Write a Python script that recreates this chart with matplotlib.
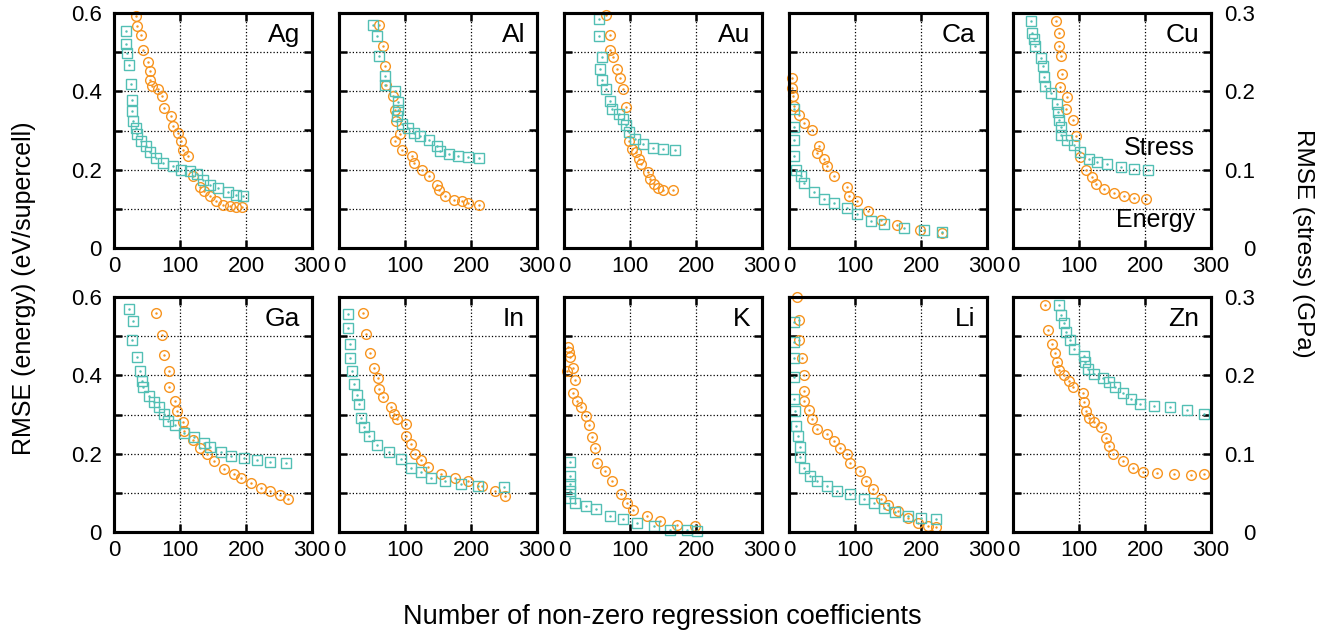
import numpy as np
import matplotlib
matplotlib.use('Agg')
import matplotlib.pyplot as plt

plt.rcParams['font.family'] = ['Liberation Sans', 'DejaVu Sans']

# element order, top row then bottom row
elements = ['Ag', 'Al', 'Au', 'Ca', 'Cu', 'Ga', 'In', 'K', 'Li', 'Zn']

# energy RMSE (eV/supercell) vs number of non-zero coefficients
e_x = {
    'Ag': [33, 35, 41, 44, 52, 54, 55, 57, 67, 72, 75, 87, 90, 97, 102, 105, 112, 120, 130, 137, 145, 155, 165, 175, 185, 194],
    'Al': [60, 66, 69, 71, 82, 85, 86, 92, 85, 95, 110, 113, 125, 136, 148, 151, 161, 174, 186, 196, 212],
    'Au': [63, 69, 69, 74, 81, 85, 89, 94, 99, 103, 109, 113, 117, 127, 130, 137, 142, 150, 165],
    'Ca': [5, 5, 6, 8, 15, 23, 35, 45, 43, 53, 58, 68, 88, 91, 103, 119, 139, 164, 199, 232],
    'Cu': [65, 69, 69, 73, 74, 71, 82, 81, 91, 96, 102, 110, 120, 126, 138, 153, 168, 183, 201],
    'Ga': [63, 73, 76, 83, 83, 93, 96, 104, 106, 120, 131, 141, 152, 167, 182, 192, 207, 222, 237, 252, 263],
    'In': [36, 41, 47, 53, 59, 61, 66, 79, 84, 88, 101, 101, 109, 115, 124, 135, 155, 175, 195, 216, 236, 251],
    'K': [6, 8, 9, 4, 14, 16, 13, 19, 26, 34, 38, 42, 47, 50, 62, 72, 87, 95, 105, 125, 146, 171, 199],
    'Li': [12, 15, 15, 19, 22, 22, 23, 30, 35, 42, 58, 68, 78, 88, 93, 108, 116, 127, 139, 150, 165, 180, 195, 211, 223],
    'Zn': [48, 53, 59, 64, 67, 69, 78, 85, 91, 106, 108, 110, 115, 122, 133, 141, 146, 152, 167, 182, 197, 218, 244, 269, 290],
}
e_y = {
    'Ag': [0.593, 0.568, 0.545, 0.505, 0.474, 0.451, 0.43, 0.414, 0.406, 0.389, 0.357, 0.336, 0.312, 0.294, 0.272, 0.251, 0.234, 0.183, 0.157, 0.145, 0.132, 0.119, 0.111, 0.106, 0.105, 0.105],
    'Al': [0.57, 0.515, 0.464, 0.417, 0.387, 0.353, 0.323, 0.29, 0.272, 0.25, 0.234, 0.217, 0.2, 0.183, 0.162, 0.149, 0.132, 0.123, 0.119, 0.115, 0.111],
    'Au': [0.596, 0.544, 0.506, 0.488, 0.458, 0.434, 0.407, 0.36, 0.272, 0.253, 0.244, 0.227, 0.214, 0.193, 0.176, 0.163, 0.152, 0.148, 0.148],
    'Ca': [0.434, 0.408, 0.387, 0.362, 0.34, 0.32, 0.302, 0.26, 0.243, 0.226, 0.209, 0.183, 0.157, 0.132, 0.119, 0.094, 0.072, 0.06, 0.047, 0.038],
    'Cu': [0.579, 0.55, 0.516, 0.489, 0.444, 0.41, 0.385, 0.356, 0.326, 0.285, 0.232, 0.198, 0.181, 0.164, 0.151, 0.14, 0.132, 0.128, 0.126],
    'Ga': [0.56, 0.504, 0.452, 0.412, 0.369, 0.335, 0.309, 0.281, 0.258, 0.235, 0.215, 0.198, 0.181, 0.16, 0.147, 0.138, 0.126, 0.113, 0.104, 0.094, 0.085],
    'In': [0.56, 0.506, 0.457, 0.418, 0.392, 0.365, 0.344, 0.32, 0.301, 0.288, 0.275, 0.245, 0.224, 0.2, 0.185, 0.166, 0.147, 0.138, 0.13, 0.117, 0.104, 0.091],
    'K': [0.472, 0.459, 0.446, 0.412, 0.419, 0.388, 0.356, 0.335, 0.318, 0.297, 0.274, 0.243, 0.215, 0.177, 0.157, 0.13, 0.096, 0.074, 0.057, 0.04, 0.027, 0.019, 0.015],
    'Li': [0.6, 0.542, 0.49, 0.444, 0.4, 0.361, 0.335, 0.311, 0.288, 0.262, 0.249, 0.232, 0.215, 0.198, 0.177, 0.156, 0.13, 0.109, 0.083, 0.07, 0.053, 0.036, 0.023, 0.015, 0.012],
    'Zn': [0.579, 0.517, 0.48, 0.456, 0.433, 0.414, 0.402, 0.385, 0.371, 0.354, 0.331, 0.309, 0.292, 0.281, 0.267, 0.241, 0.22, 0.2, 0.181, 0.164, 0.153, 0.151, 0.147, 0.145, 0.147],
}

# stress RMSE (GPa)
s_x = {
    'Ag': [18, 18, 20, 22, 25, 27, 27, 29, 33, 35, 41, 49, 54, 64, 74, 89, 102, 115, 125, 135, 145, 158, 173, 185, 195],
    'Al': [52, 57, 60, 70, 70, 85, 89, 90, 88, 95, 105, 113, 123, 136, 148, 153, 166, 181, 196, 212],
    'Au': [53, 53, 57, 54, 57, 63, 70, 73, 83, 89, 94, 99, 107, 119, 135, 150, 168],
    'Ca': [8, 8, 8, 8, 10, 18, 23, 38, 53, 68, 88, 103, 124, 144, 174, 205, 232],
    'Cu': [28, 29, 32, 33, 43, 46, 47, 49, 58, 66, 68, 70, 72, 72, 82, 92, 102, 115, 128, 143, 163, 183, 204],
    'Ga': [23, 29, 28, 35, 39, 43, 44, 53, 61, 68, 76, 82, 93, 106, 121, 136, 146, 162, 177, 197, 217, 237, 260],
    'In': [13, 14, 17, 17, 19, 23, 27, 30, 33, 38, 46, 58, 76, 94, 109, 124, 140, 160, 185, 211, 250],
    'K': [9, 9, 9, 9, 9, 16, 34, 49, 70, 90, 110, 136, 161, 186, 201],
    'Li': [7, 7, 8, 8, 8, 9, 10, 13, 16, 17, 22, 32, 42, 58, 73, 93, 114, 129, 144, 160, 180, 200, 223],
    'Zn': [69, 72, 78, 81, 87, 92, 108, 109, 113, 122, 136, 146, 154, 167, 179, 192, 213, 238, 264, 290],
}
s_y = {
    'Ag': [0.277, 0.26, 0.249, 0.233, 0.209, 0.189, 0.175, 0.162, 0.153, 0.145, 0.136, 0.13, 0.122, 0.115, 0.109, 0.105, 0.1, 0.098, 0.094, 0.087, 0.081, 0.077, 0.071, 0.068, 0.067],
    'Al': [0.285, 0.27, 0.245, 0.22, 0.208, 0.2, 0.187, 0.176, 0.168, 0.158, 0.153, 0.147, 0.143, 0.138, 0.13, 0.124, 0.12, 0.118, 0.116, 0.115],
    'Au': [0.292, 0.27, 0.244, 0.228, 0.214, 0.203, 0.188, 0.178, 0.171, 0.165, 0.157, 0.148, 0.139, 0.133, 0.128, 0.126, 0.125],
    'Ca': [0.177, 0.155, 0.138, 0.117, 0.1, 0.092, 0.083, 0.072, 0.062, 0.057, 0.051, 0.043, 0.034, 0.03, 0.026, 0.023, 0.02],
    'Cu': [0.29, 0.275, 0.267, 0.258, 0.243, 0.232, 0.218, 0.207, 0.198, 0.184, 0.173, 0.164, 0.155, 0.144, 0.138, 0.131, 0.123, 0.113, 0.11, 0.107, 0.103, 0.101, 0.1],
    'Ga': [0.285, 0.269, 0.245, 0.223, 0.206, 0.193, 0.185, 0.174, 0.166, 0.159, 0.151, 0.142, 0.136, 0.127, 0.121, 0.114, 0.108, 0.102, 0.097, 0.095, 0.092, 0.09, 0.088],
    'In': [0.278, 0.26, 0.24, 0.222, 0.205, 0.189, 0.175, 0.163, 0.146, 0.134, 0.123, 0.111, 0.102, 0.093, 0.082, 0.076, 0.069, 0.065, 0.061, 0.059, 0.058],
    'K': [0.089, 0.072, 0.061, 0.052, 0.044, 0.037, 0.033, 0.029, 0.02, 0.016, 0.012, 0.008, 0.003, 0.002, 0.001],
    'Li': [0.268, 0.242, 0.222, 0.198, 0.17, 0.155, 0.135, 0.122, 0.108, 0.096, 0.082, 0.072, 0.065, 0.059, 0.052, 0.048, 0.042, 0.037, 0.031, 0.025, 0.02, 0.018, 0.017],
    'Zn': [0.29, 0.277, 0.267, 0.255, 0.245, 0.234, 0.225, 0.217, 0.208, 0.202, 0.197, 0.191, 0.185, 0.178, 0.17, 0.163, 0.161, 0.159, 0.156, 0.151],
}

orange = '#f7941f'
teal = '#52bfb4'

W, H = 1334, 636
fig = plt.figure(figsize=(W / 100, H / 100), dpi=100)

lefts = [114, 339, 564, 789, 1013]
tops = [13, 297]
pw, ph = 198, 235


def pts(ax, x, y, color, marker, ms):
    ax.plot(x, y, ls='none', marker=marker, ms=ms, mfc='none', mec=color, mew=1.0, clip_on=False)
    ax.plot(x, y, ls='none', marker='.', ms=1.5, color=color, clip_on=False)


for i, el in enumerate(elements):
    row, col = divmod(i, 5)
    rect = [lefts[col] / W, 1 - (tops[row] + ph) / H, pw / W, ph / H]
    ax = fig.add_axes(rect)
    ax.set_xlim(0, 300)
    ax.set_ylim(0, 0.6)
    ax.set_xticks([0, 100, 200, 300])
    ax.set_xticklabels(['0', '100', '200', '300'], fontsize=16)
    ax.set_yticks(np.round(np.arange(0, 0.61, 0.1), 1))
    if col == 0:
        ax.set_yticklabels(['0', '', '0.2', '', '0.4', '', '0.6'], fontsize=16)
    else:
        ax.set_yticklabels([])
    ax.grid(True, ls=':', color='black', lw=0.9)
    ax.tick_params(direction='in', length=6, width=1.8, top=True, right=False, pad=6)
    ax.tick_params(axis='y', pad=9)
    for sp in ax.spines.values():
        sp.set_linewidth(2.2)
    pts(ax, e_x[el], e_y[el], orange, 'o', 7)

    ax2 = ax.twinx()
    ax2.set_ylim(0, 0.3)
    ax2.set_yticks(np.round(np.arange(0, 0.31, 0.05), 2))
    if col == 4:
        ax2.set_yticklabels(['0', '', '0.1', '', '0.2', '', '0.3'], fontsize=16, ha='right')
        ax2.tick_params(pad=32)
    else:
        ax2.set_yticklabels([])
    ax2.tick_params(direction='in', length=6, width=1.8)
    for sp in ax2.spines.values():
        sp.set_linewidth(2.2)
    pts(ax2, s_x[el], s_y[el], teal, 's', 6.5)

    ax.text(0.94, 0.905, el, transform=ax.transAxes, ha='right', va='center', fontsize=19)
    if el == 'Cu':
        ax.text(0.92, 0.425, 'Stress', transform=ax.transAxes, ha='right', va='center', fontsize=18)
        ax.text(0.92, 0.12, 'Energy', transform=ax.transAxes, ha='right', va='center', fontsize=18)

fig.text(24 / W, 1 - 288 / H, 'RMSE (energy) (eV/supercell)', rotation=90, ha='center', va='center', fontsize=18)
fig.text(1303 / W, 1 - 243 / H, 'RMSE (stress) (GPa)', rotation=270, ha='center', va='center', fontsize=17.5)
fig.text(662 / W, 1 - 617 / H, 'Number of non-zero regression coefficients', ha='center', va='center', fontsize=19.5)

fig.savefig('out.png', dpi=100)
